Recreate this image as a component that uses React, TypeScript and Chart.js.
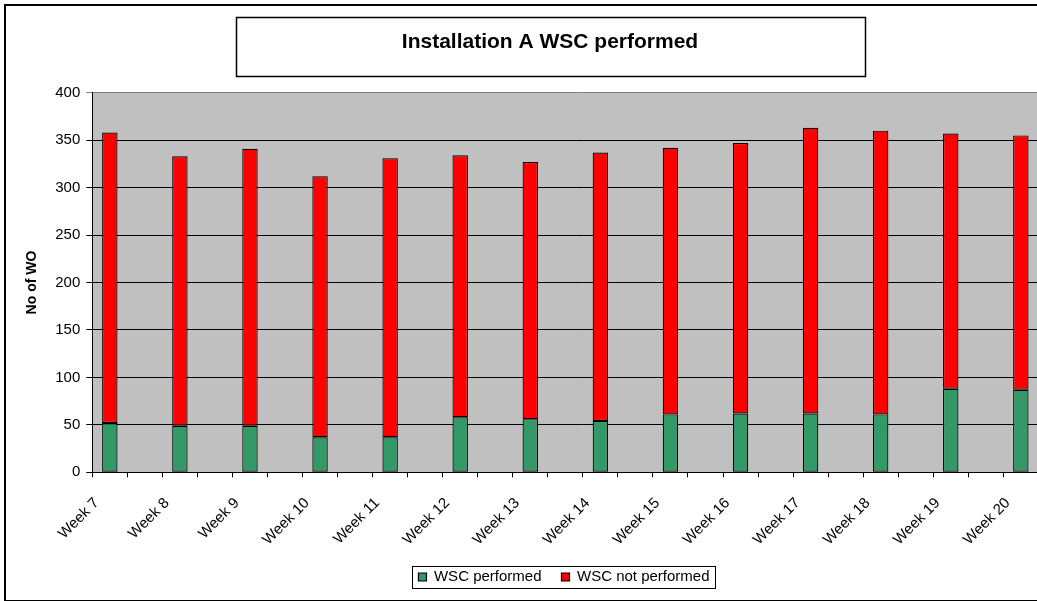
import React, { useEffect, useRef } from "react";
import { Chart, registerables } from "chart.js";

Chart.register(...registerables);

// ---- data ----
const weeks = [
  "Week 7", "Week 8", "Week 9", "Week 10", "Week 11", "Week 12", "Week 13",
  "Week 14", "Week 15", "Week 16", "Week 17", "Week 18", "Week 19", "Week 20",
];
const performed = [52, 49, 49, 37, 37, 58, 56, 54, 61, 62, 62, 61, 88, 87];
const notPerformed = [306, 284, 292, 275, 294, 276, 271, 283, 281, 285, 301, 299, 269, 268];
const seriesNames = ["WSC performed", "WSC not performed"];
const chartTitle = "Installation A WSC performed";
const yAxisTitle = "No of WO";
const yMin = 0;
const yMax = 400;
const yStep = 50;

// each week takes a labelled slot followed by an empty slot
const categories = weeks.flatMap((w) => [w, ""]);
const performedSlots = performed.flatMap((v) => [v, null]);
const notPerformedSlots = notPerformed.flatMap((v) => [v, null]);

const FONT = "'Liberation Sans', Arial, sans-serif";
const W = 1100;
const H = 601;

const framePlugin = {
  id: "frame",
  beforeDraw(chart: any) {
    const { ctx, chartArea } = chart;
    ctx.save();
    ctx.fillStyle = "#ffffff";
    ctx.fillRect(0, 0, chart.width, chart.height);
    ctx.fillStyle = "#C0C0C0";
    ctx.fillRect(chartArea.left, chartArea.top, chartArea.right - chartArea.left, chartArea.bottom - chartArea.top);
    ctx.restore();
  },
  afterLayout(chart: any) {
    const lg = chart.legend;
    if (lg) {
      lg.left += 14;
      lg.right += 14;
    }
  },
  afterDraw(chart: any) {
    const { ctx } = chart;
    ctx.save();
    // outer border
    ctx.strokeStyle = "#000";
    ctx.lineWidth = 2;
    ctx.strokeRect(5, 5, chart.width - 10, chart.height - 5);
    // title box
    ctx.lineWidth = 1.5;
    ctx.strokeRect(236.5, 17.5, 629, 59);
    // legend box
    const hb = chart.legend && chart.legend.legendHitBoxes;
    if (hb && hb.length) {
      let l = Infinity, r = -Infinity, t = Infinity, b = -Infinity;
      hb.forEach((h: any) => {
        l = Math.min(l, h.left);
        r = Math.max(r, h.left + h.width);
        t = Math.min(t, h.top);
        b = Math.max(b, h.top + h.height);
      });
      ctx.lineWidth = 1;
      ctx.strokeRect(Math.round(l - 6) + 0.5, Math.round(t - 4) + 0.5, Math.round(r - l + 12), Math.round(b - t + 7));
    }
    ctx.restore();
  },
};

export default function App() {
  const ref = useRef<HTMLCanvasElement | null>(null);

  useEffect(() => {
    if (!ref.current) return;
    const chart = new Chart(ref.current, {
      type: "bar",
      data: {
        labels: categories,
        datasets: [
          {
            label: seriesNames[0],
            data: performedSlots,
            backgroundColor: "#339966",
            borderColor: "#000000",
            borderWidth: 1.2,
            borderSkipped: false,
            barPercentage: 0.44,
            categoryPercentage: 1,
          },
          {
            label: seriesNames[1],
            data: notPerformedSlots,
            backgroundColor: "#FF0000",
            borderColor: "#000000",
            borderWidth: 1.2,
            borderSkipped: false,
            barPercentage: 0.44,
            categoryPercentage: 1,
          },
        ],
      },
      options: {
        responsive: false,
        animation: false,
        devicePixelRatio: 1,
        layout: { padding: { top: 0, left: 0, right: 0, bottom: 11.5 } },
        plugins: {
          title: {
            display: true,
            text: chartTitle,
            color: "#000",
            font: { family: FONT, size: 21, weight: "bold" },
            padding: { top: 30, bottom: 37.5 },
          },
          legend: {
            position: "bottom",
            maxHeight: 40,
            labels: {
              boxWidth: 8,
              boxHeight: 8,
              padding: 20,
              color: "#000",
              font: { family: FONT, size: 15 },
            },
          },
          tooltip: { enabled: false },
        },
        scales: {
          x: {
            stacked: true,
            grid: {
              display: true,
              drawOnChartArea: false,
              drawTicks: true,
              tickLength: 5,
              offset: true,
              color: "#000",
            },
            border: { display: true, color: "#000", width: 1 },
            ticks: {
              autoSkip: false,
              maxRotation: 45,
              minRotation: 45,
              labelOffset: -13,
              padding: 17,
              color: "#000",
              font: { family: FONT, size: 15 },
            },
            afterFit(s: any) {
              s.height = 77.2;
            },
          },
          y: {
            stacked: true,
            min: yMin,
            max: yMax,
            ticks: {
              stepSize: yStep,
              padding: 6,
              color: "#000",
              font: { family: FONT, size: 15 },
            },
            grid: {
              color: (c: any) => (c.tick && c.tick.value === yMax ? "#808080" : "#000000"),
              lineWidth: 1,
              tickLength: 6,
            },
            border: { display: true, color: "#000", width: 1 },
            title: {
              display: true,
              text: yAxisTitle,
              color: "#000",
              font: { family: FONT, size: 14, weight: "bold" },
              padding: { top: 23.6, bottom: 0 },
            },
            afterFit(s: any) {
              s.width = 92.3;
            },
          },
          y2: {
            position: "right",
            display: true,
            grid: { display: false, drawTicks: false },
            ticks: { display: false },
            border: { display: false },
            afterFit(s: any) {
              s.width = W - 1073.4;
            },
          },
        },
      } as any,
      plugins: [framePlugin],
    });
    return () => chart.destroy();
  }, []);

  return (
    <div style={{ position: "absolute", left: 0, top: 0, width: 1037, height: 601, overflow: "hidden", background: "#fff" }}>
      <canvas ref={ref} width={W} height={H} style={{ display: "block" }} />
    </div>
  );
}
